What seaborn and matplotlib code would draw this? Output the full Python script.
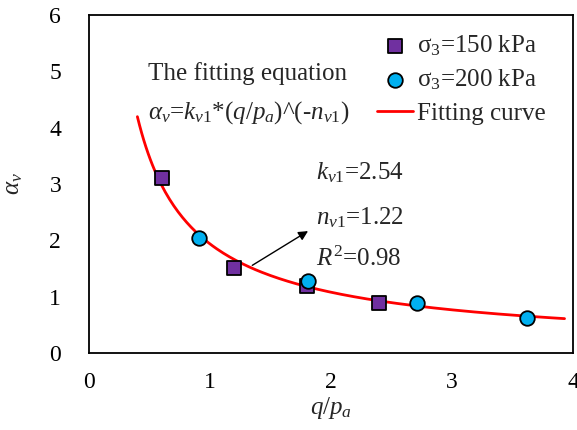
import numpy as np
import pandas as pd
import matplotlib
matplotlib.use("Agg")
import matplotlib.pyplot as plt
import seaborn as sns

# ---- data ----
x_150 = [0.6, 1.2, 1.8, 2.4]
y_150 = [3.1, 1.51, 1.19, 0.89]
x_200 = [0.91, 1.81, 2.71, 3.62]
y_200 = [2.05, 1.28, 0.89, 0.62]
# fitting curve (power law)
fit_a = 1.936
fit_b = 0.844
fit_xmin, fit_xmax = 0.4, 3.93
xticks = [0, 1, 2, 3, 4]
yticks = [0, 1, 2, 3, 4, 5, 6]

sns.set_style("white")
plt.rcParams['font.family'] = ['Liberation Serif', 'DejaVu Serif']
plt.rcParams['mathtext.fontset'] = 'custom'
plt.rcParams['mathtext.rm'] = 'Liberation Serif'
plt.rcParams['mathtext.it'] = 'Liberation Serif:italic'
plt.rcParams['mathtext.bf'] = 'Liberation Serif:bold'

FS = 18
fig = plt.figure(figsize=(5.77, 4.30), dpi=100)
ax = fig.add_axes([0.1542, 0.1791, 0.8389, 0.786])

df150 = pd.DataFrame({"x": x_150, "y": y_150})
df200 = pd.DataFrame({"x": x_200, "y": y_200})
xc = np.linspace(fit_xmin, fit_xmax, 200)
dfc = pd.DataFrame({"x": xc, "y": fit_a * xc ** (-fit_b)})

sns.lineplot(data=dfc, x="x", y="y", ax=ax, color="#FF0000", lw=2.0,
             label="Fitting curve", zorder=2)
sns.scatterplot(data=df150, x="x", y="y", ax=ax, marker="s", s=110,
                color="#7030A0", edgecolor="black", linewidth=1.3,
                label="σ$_3$=150 kPa", zorder=3)
sns.scatterplot(data=df200, x="x", y="y", ax=ax, marker="o", s=110,
                color="#00B0F0", edgecolor="black", linewidth=1.3,
                label="σ$_3$=200 kPa", zorder=4)

ax.set_xlim(0, 4)
ax.set_ylim(0, 6)
ax.set_xticks(xticks)
ax.set_yticks(yticks)
ax.tick_params(direction="in", length=5, width=1, labelsize=17,
               colors="black")
ax.tick_params(axis="y", pad=20)
ax.tick_params(axis="x", pad=14)
for s in ax.spines.values():
    s.set_color("black")
    s.set_linewidth(1.3)

ax.set_xlabel("$q$/$p_a$", fontsize=FS)
ax.set_ylabel(r"$\alpha_v$", fontsize=FS)
ax.xaxis.set_label_coords(0.5, -0.124)
ax.yaxis.set_label_coords(-0.132, 0.5)

h, l = ax.get_legend_handles_labels()
order = [l.index("σ$_3$=150 kPa"), l.index("σ$_3$=200 kPa"), l.index("Fitting curve")]
ax.legend([h[i] for i in order], [l[i] for i in order], loc="upper left",
          frameon=False, fontsize=FS, handlelength=1.45, handletextpad=0.15,
          labelspacing=0.4, borderpad=0.4, borderaxespad=0.0,
          bbox_to_anchor=(0.574, 0.976))

ax.text(0.49, 4.97, "The fitting equation", fontsize=FS, va="center", ha="left")
ax.text(0.49, 4.26, r"$\alpha_v$=$k_{v1}$*($q$/$p_a$)^(-$n_{v1}$)", fontsize=FS,
        va="center", ha="left")
ax.text(1.876, 3.2, "$k_{v1}$=2.54", fontsize=FS, va="center", ha="left")
ax.text(1.876, 2.41, "$n_{v1}$=1.22", fontsize=FS, va="center", ha="left")
ax.text(1.876, 1.67, "$R^2$=0.98", fontsize=FS, va="center", ha="left")
ax.annotate("", xy=(1.83, 2.19), xytext=(1.33, 1.53),
            arrowprops=dict(arrowstyle="-|>", color="black", lw=1.0,
                            mutation_scale=14))

fig.savefig("out.png", dpi=100)
